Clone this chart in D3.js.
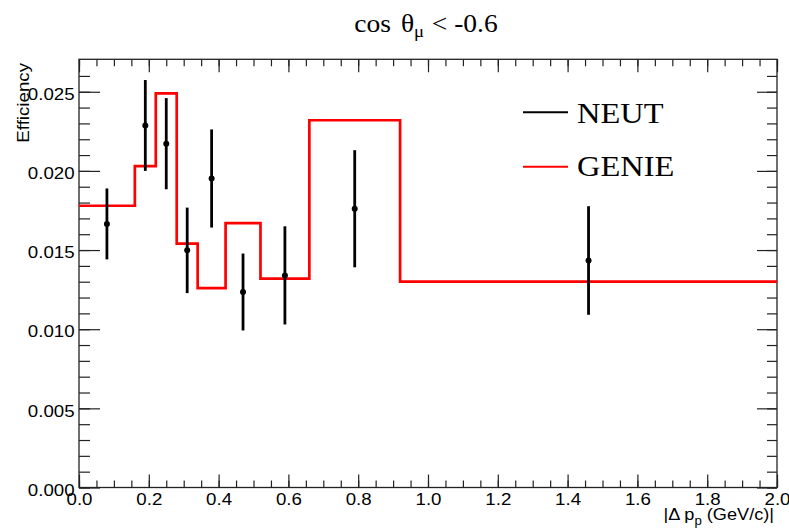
<!DOCTYPE html>
<html>
<head>
<meta charset="utf-8">
<script src="https://cdn.jsdelivr.net/npm/d3@7"></script>
<style>
  body { margin: 0; background: #fff; }
  svg text { font-family: "Liberation Sans", Arial, sans-serif; fill: #000; }
  .serif { font-family: "Liberation Serif", "Times New Roman", serif; }
</style>
</head>
<body>
<div id="chart"></div>
<script>
// data
var binEdges = [0, 0.16, 0.22, 0.28, 0.34, 0.42, 0.52, 0.66, 0.92, 2.0];
var genieEff = [0.0178, 0.0203, 0.0249, 0.0154, 0.0126, 0.0167, 0.0132, 0.0232, 0.0130];
var neutX = [0.08, 0.19, 0.25, 0.31, 0.38, 0.47, 0.59, 0.79, 1.46];
var neutEff = [0.01665, 0.02287, 0.02172, 0.01498, 0.01952, 0.01235, 0.0134, 0.01761, 0.01434];
var neutErr = [0.00224, 0.00287, 0.00288, 0.0027, 0.0031, 0.00243, 0.0031, 0.0037, 0.00343];
var xMajor = [0, 0.2, 0.4, 0.6, 0.8, 1.0, 1.2, 1.4, 1.6, 1.8, 2.0];
var yMajor = [0, 0.005, 0.010, 0.015, 0.020, 0.025];

var W = 789, H = 532;
var SX = 1.1; // text is a bit wide in the reference
var svg = d3.select('#chart').append('svg')
    .attr('width', W).attr('height', H);

var x = d3.scaleLinear().domain([0, 2.0]).range([79, 777]);
var y = d3.scaleLinear().domain([0, 0.02705]).range([487.5, 59.3]);

var xMinor = d3.range(0, 2.0001, 0.05).map(function(d) { return +d.toFixed(2); });
var yMinor = d3.range(0, 0.0270, 0.001).map(function(d) { return +d.toFixed(3); });

function styleAxis(g) {
    g.select('.domain').remove();
    g.selectAll('line').attr('stroke', '#222').attr('stroke-width', 1.2);
}

// bottom axis
svg.append('g').attr('transform', 'translate(0,' + y(0) + ')')
    .call(d3.axisBottom(x).tickValues(xMinor).tickSize(-7).tickFormat(''))
    .call(styleAxis);
var bx = svg.append('g').attr('transform', 'translate(0,' + y(0) + ')')
    .call(d3.axisBottom(x).tickValues(xMajor).tickSize(-13).tickPadding(5).tickFormat(d3.format('.1f')))
    .call(styleAxis);
bx.selectAll('text').attr('font-size', 17).attr('font-family', null)
    .attr('transform', 'scale(' + SX + ',1)');

// top axis
svg.append('g').attr('transform', 'translate(0,' + y.range()[1] + ')')
    .call(d3.axisTop(x).tickValues(xMinor).tickSize(-7).tickFormat(''))
    .call(styleAxis);
svg.append('g').attr('transform', 'translate(0,' + y.range()[1] + ')')
    .call(d3.axisTop(x).tickValues(xMajor).tickSize(-13).tickFormat(''))
    .call(styleAxis);

// left axis
svg.append('g').attr('transform', 'translate(' + x(0) + ',0)')
    .call(d3.axisLeft(y).tickValues(yMinor).tickSize(-11).tickFormat(''))
    .call(styleAxis);
var ly = svg.append('g').attr('transform', 'translate(' + x(0) + ',0)')
    .call(d3.axisLeft(y).tickValues(yMajor).tickSize(-21).tickPadding(4).tickFormat(d3.format('.3f')))
    .call(styleAxis);
ly.selectAll('text').attr('font-size', 17).attr('font-family', null).attr('dy', '0.45em')
    .attr('transform', 'scale(' + SX + ',1)');

// right axis
svg.append('g').attr('transform', 'translate(' + x(2) + ',0)')
    .call(d3.axisRight(y).tickValues(yMinor).tickSize(-10).tickFormat(''))
    .call(styleAxis);
svg.append('g').attr('transform', 'translate(' + x(2) + ',0)')
    .call(d3.axisRight(y).tickValues(yMajor).tickSize(-20).tickFormat(''))
    .call(styleAxis);

// frame
svg.append('rect')
    .attr('x', x(0)).attr('y', y.range()[1])
    .attr('width', x(2) - x(0)).attr('height', y(0) - y.range()[1])
    .attr('fill', 'none').attr('stroke', '#222').attr('stroke-width', 1.3);

// GENIE step histogram
var stepPts = binEdges.map(function(e, i) {
    return [e, genieEff[Math.min(i, genieEff.length - 1)]];
});
svg.append('path')
    .datum(stepPts)
    .attr('fill', 'none').attr('stroke', '#ff0000').attr('stroke-width', 2.7)
    .attr('d', d3.line()
        .x(function(d) { return x(d[0]); })
        .y(function(d) { return y(d[1]); })
        .curve(d3.curveStepAfter));

// NEUT points with errors
var pts = neutX.map(function(v, i) { return { x: v, y: neutEff[i], e: neutErr[i] }; });
var pg = svg.append('g');
pg.selectAll('.err').data(pts).enter().append('line')
    .attr('x1', function(d) { return x(d.x); })
    .attr('x2', function(d) { return x(d.x); })
    .attr('y1', function(d) { return y(d.y - d.e); })
    .attr('y2', function(d) { return y(d.y + d.e); })
    .attr('stroke', '#000').attr('stroke-width', 2.8);
pg.selectAll('.dot').data(pts).enter().append('circle')
    .attr('cx', function(d) { return x(d.x); })
    .attr('cy', function(d) { return y(d.y); })
    .attr('r', 3).attr('fill', '#000');

// axis titles
svg.append('text')
    .attr('transform', 'translate(28.5,63) rotate(-90) scale(' + SX + ',1)')
    .attr('text-anchor', 'end').attr('font-size', 17)
    .text('Efficiency');

var xt = svg.append('text')
    .attr('transform', 'translate(774,520) scale(' + SX + ',1)')
    .attr('text-anchor', 'end').attr('font-size', 16.5);
xt.append('tspan').text('|\u0394 p');
xt.append('tspan').attr('font-size', 12).attr('dy', 5).text('p');
xt.append('tspan').attr('dy', -5).text(' (GeV/c)|');

// title
var tt = svg.append('text').attr('class', 'serif')
    .attr('transform', 'translate(426,31.5) scale(' + SX + ',1)')
    .attr('text-anchor', 'middle').attr('font-size', 25);
tt.append('tspan').text('cos');
tt.append('tspan').attr('dx', 9).text('\u03b8');
tt.append('tspan').attr('font-size', 17).attr('dy', 5).text('\u03bc');
tt.append('tspan').attr('dy', -5).attr('dx', 7).text('< -0.6');

// legend
var legend = [
    { name: 'NEUT', color: '#000', ly: 112.3, ty: 122.7 },
    { name: 'GENIE', color: '#ff0000', ly: 166.7, ty: 175.5 }
];
legend.forEach(function(l) {
    svg.append('line')
        .attr('x1', 523).attr('x2', 568).attr('y1', l.ly).attr('y2', l.ly)
        .attr('stroke', l.color).attr('stroke-width', 2);
    svg.append('text').attr('class', 'serif')
        .attr('transform', 'translate(577,' + l.ty + ') scale(' + SX + ',1)')
        .attr('font-size', 29.5)
        .text(l.name);
});
</script>
</body>
</html>
